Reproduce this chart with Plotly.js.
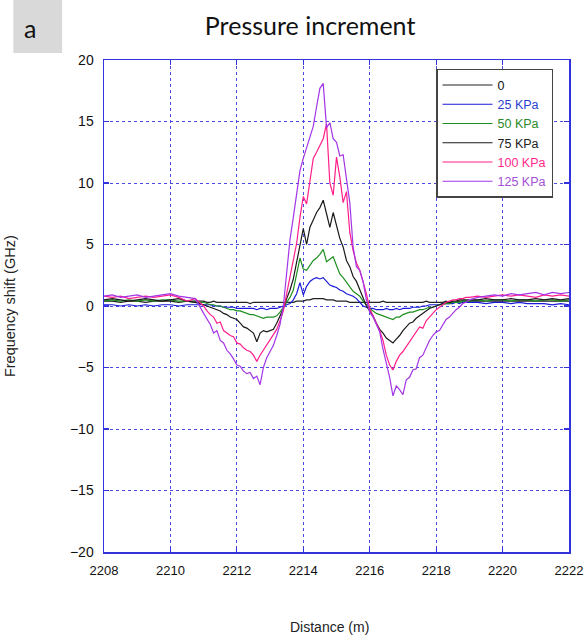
<!DOCTYPE html>
<html>
<head>
<meta charset="utf-8">
<script src="https://cdn.plot.ly/plotly-3.0.1.min.js"></script>
<style>html,body{margin:0;padding:0;background:#fff;}#chart{width:584px;height:636px;}</style>
</head>
<body>
<div id="chart"></div>
<script>
// Distance (m)
const distance = [
  2208, 2208.25, 2208.5, 2208.75, 2209, 2209.25, 2209.5, 2209.75, 2210, 2210.25, 2210.5, 2210.75,
  2211.0, 2211.1, 2211.2, 2211.3, 2211.4, 2211.5, 2211.6, 2211.7, 2211.8, 2211.9,
  2212.0, 2212.1, 2212.2, 2212.3, 2212.4, 2212.5, 2212.6, 2212.7, 2212.8, 2212.9,
  2213.0, 2213.1, 2213.2, 2213.3, 2213.4, 2213.5, 2213.6, 2213.7, 2213.8, 2213.9,
  2214.0, 2214.1, 2214.2, 2214.3, 2214.4, 2214.5, 2214.6, 2214.7, 2214.8, 2214.9,
  2215.0, 2215.1, 2215.2, 2215.3, 2215.4, 2215.5, 2215.6, 2215.7, 2215.8, 2215.9,
  2216.0, 2216.1, 2216.2, 2216.3, 2216.4, 2216.5, 2216.6, 2216.7, 2216.8, 2216.9,
  2217.0, 2217.1, 2217.2, 2217.3, 2217.4, 2217.5, 2217.6, 2217.7, 2217.8, 2217.9,
  2218.0, 2218.1, 2218.2, 2218.3, 2218.4, 2218.5, 2218.6, 2218.7, 2218.8, 2218.9,
  2219.0, 2219.25, 2219.5, 2219.75, 2220, 2220.25, 2220.5, 2220.75, 2221, 2221.25, 2221.5, 2221.75, 2222
];

// Frequency shift (GHz) per pressure
const shift0 = [
  0.4,0.4,0.3,0.4,0.4,0.3,0.4,0.4,0.4,0.3,0.4,0.4,
  0.4,0.3,0.3,0.4,0.3,0.3,0.3,0.3,0.3,0.3,
  0.3,0.3,0.3,0.3,0.2,0.3,0.3,0.3,0.3,0.3,
  0.3,0.3,0.3,0.3,0.3,0.3,0.3,0.3,0.4,0.4,
  0.4,0.5,0.5,0.6,0.6,0.6,0.6,0.5,0.5,0.5,
  0.4,0.4,0.4,0.4,0.3,0.3,0.3,0.3,0.3,0.3,
  0.3,0.3,0.3,0.3,0.4,0.3,0.3,0.3,0.3,0.3,
  0.3,0.3,0.3,0.3,0.3,0.3,0.3,0.4,0.3,0.3,
  0.3,0.3,0.3,0.4,0.3,0.3,0.3,0.4,0.4,0.4,
  0.4,0.4,0.4,0.4,0.4,0.4,0.4,0.4,0.4,0.4,0.4,0.4,0.4
];
const shift25 = [
  0.1,0.1,0.0,0.1,0.0,0.1,0.0,0.1,0.1,0.0,0.1,0.1,
  0.1,0.1,0.1,0.0,0.0,0.0,-0.1,-0.1,-0.1,-0.1,
  -0.2,-0.2,-0.2,-0.2,-0.2,-0.2,-0.3,-0.2,-0.2,-0.3,
  -0.2,-0.2,-0.2,-0.1,0.0,0.1,0.2,0.5,1.0,1.9,
  0.9,1.6,2.0,2.2,2.3,2.2,2.3,2.0,1.7,1.6,
  1.5,1.3,1.2,1.0,0.9,0.8,0.6,0.3,0.0,-0.1,
  -0.2,-0.2,-0.3,-0.3,-0.3,-0.2,-0.3,-0.3,-0.2,-0.3,
  -0.2,-0.2,-0.2,-0.1,-0.1,-0.1,0.0,0.0,0.1,0.1,
  0.1,0.1,0.2,0.2,0.2,0.2,0.3,0.2,0.3,0.3,
  0.3,0.3,0.2,0.3,0.3,0.2,0.3,0.2,0.2,0.2,0.1,0.2,0.1
];
const shift50 = [
  0.4,0.5,0.4,0.5,0.4,0.5,0.4,0.5,0.5,0.4,0.4,0.3,
  0.3,0.2,0.1,0.1,0.0,0.0,-0.1,-0.2,-0.3,-0.3,
  -0.4,-0.4,-0.5,-0.6,-0.7,-0.7,-0.8,-0.9,-1.0,-0.9,
  -0.9,-0.9,-0.8,-0.5,-0.1,0.3,0.7,1.3,2.5,3.9,
  3.0,2.9,3.3,3.7,3.9,4.2,4.6,3.6,3.8,4.0,
  3.3,2.6,2.3,1.9,1.5,1.2,1.0,0.8,0.4,0.1,
  -0.2,-0.4,-0.6,-0.7,-0.8,-0.9,-1.0,-1.1,-0.9,-0.9,
  -0.7,-0.6,-0.5,-0.5,-0.4,-0.3,-0.3,-0.2,-0.1,-0.1,
  0.0,0.1,0.1,0.2,0.2,0.3,0.3,0.3,0.4,0.4,
  0.4,0.5,0.4,0.5,0.5,0.4,0.5,0.5,0.4,0.5,0.5,0.4,0.5
];
const shift75 = [
  0.5,0.6,0.5,0.4,0.5,0.6,0.5,0.4,0.5,0.6,0.4,0.3,
  0.1,0.0,-0.1,-0.2,-0.3,-0.4,-0.6,-0.7,-0.9,-1.0,
  -1.1,-1.4,-1.7,-1.8,-2.0,-2.2,-2.9,-2.2,-2.0,-2.1,
  -2.0,-1.9,-1.4,-0.8,-0.2,0.6,1.3,2.2,3.6,5.0,
  6.3,5.0,6.4,7.0,7.6,8.0,8.6,7.5,6.4,7.6,
  6.6,5.5,4.8,3.7,3.2,2.4,2.0,1.3,0.6,0.0,
  -0.4,-0.8,-1.4,-1.9,-2.2,-2.6,-2.8,-3.0,-2.7,-2.4,
  -2.0,-1.7,-1.4,-1.3,-1.0,-0.8,-0.6,-0.4,-0.2,-0.1,
  0.0,0.1,0.2,0.3,0.3,0.4,0.4,0.5,0.5,0.5,
  0.5,0.5,0.6,0.5,0.5,0.6,0.5,0.5,0.6,0.5,0.6,0.5,0.6
];
const shift100 = [
  0.8,0.7,0.8,0.6,0.7,0.8,0.7,0.8,0.9,0.7,0.4,0.6,
  0.0,-0.4,-0.7,-0.9,-1.4,-1.3,-2.0,-2.2,-2.4,-2.5,
  -3.0,-3.1,-3.4,-3.6,-3.7,-4.0,-4.5,-4.0,-3.6,-3.2,
  -2.8,-2.4,-1.9,-1.2,-0.4,1.0,2.4,4.0,5.1,7.2,
  8.9,8.3,10.2,12.0,12.5,13.0,13.6,14.8,10.0,9.0,
  12.1,10.5,8.4,9.3,6.0,4.5,3.5,2.9,2.0,1.0,
  -0.2,-0.8,-1.3,-2.0,-2.8,-4.0,-4.8,-5.2,-4.5,-4.0,
  -3.7,-3.3,-3.0,-2.5,-2.2,-1.7,-1.8,-1.2,-0.9,-0.6,
  -0.3,-0.1,0.1,0.3,0.4,0.5,0.5,0.6,0.6,0.7,
  0.7,0.8,0.7,0.8,0.9,0.8,0.9,0.8,0.7,0.9,0.8,0.9,0.8
];
const shift125 = [
  0.8,0.9,0.7,0.8,0.9,0.7,0.8,0.9,1.0,0.8,0.7,0.6,
  -0.6,-1.0,-1.5,-2.2,-2.0,-2.8,-3.0,-3.6,-3.9,-4.3,
  -4.8,-4.9,-5.3,-5.5,-5.4,-5.9,-5.7,-6.4,-5.0,-4.2,
  -3.7,-3.2,-2.4,-1.5,0.0,2.7,5.4,7.2,9.2,11.0,
  12.0,12.9,13.8,14.6,16.2,17.7,18.1,14.5,14.9,13.6,
  13.3,12.2,12.3,10.2,8.4,4.8,3.2,2.9,2.0,0.5,
  -0.5,-0.9,-1.5,-2.1,-3.5,-4.6,-5.8,-7.3,-6.5,-6.8,
  -7.2,-6.0,-5.8,-5.2,-5.1,-4.2,-4.0,-3.4,-2.8,-2.4,
  -2.1,-2.0,-1.5,-1.1,-0.9,-0.6,-0.3,-0.1,0.2,0.3,
  0.5,0.7,0.8,0.9,0.8,1.0,0.9,1.0,1.1,0.9,1.1,1.0,1.1
];

const seriesNames = ['0', '25 KPa', '50 KPa', '75 KPa', '100 KPa', '125 KPa'];
const xTickVals = [2208, 2210, 2212, 2214, 2216, 2218, 2220, 2222];
const yTickVals = [-20, -15, -10, -5, 0, 5, 10, 15, 20];

const seriesValues = [shift0, shift25, shift50, shift75, shift100, shift125];
const seriesColors = ['#222222', '#1a1ad8', '#1f8f1f', '#1a1a1a', '#ff1f8a', '#a335e6'];
const legendTextColors = ['#111111', '#2a3fd0', '#2a8a2a', '#222222', '#ff2a8a', '#a34fd6'];

const traces = seriesValues.map((vals, i) => ({
  type: 'scatter',
  mode: 'lines',
  x: distance,
  y: vals,
  name: '<span style="color:' + legendTextColors[i] + '">' + seriesNames[i] + '</span>',
  line: {color: seriesColors[i], width: 1.2}
}));

const axisBlue = '#3333dd';
const gridBlue = '#4a4ae0';
const layout = {
  width: 584,
  height: 636,
  paper_bgcolor: '#ffffff',
  plot_bgcolor: '#ffffff',
  margin: {l: 104, r: 15, t: 60, b: 84},
  showlegend: true,
  title: {
    text: 'Pressure increment',
    font: {family: 'Lato, Noto Sans, sans-serif', size: 25, color: '#111'},
    x: 0.531, xanchor: 'center', xref: 'container',
    y: 0.959, yanchor: 'middle', yref: 'container'
  },
  legend: {
    x: 0.714, y: 0.982, xanchor: 'left', yanchor: 'top',
    bgcolor: '#ffffff', bordercolor: '#444444', borderwidth: 1.5,
    font: {family: 'Liberation Sans, Arial, sans-serif', size: 12.5, color: '#111'},
    itemwidth: 50,
    tracegroupgap: 0
  },
  xaxis: {
    range: [2208, 2222],
    tickmode: 'array', tickvals: xTickVals, ticktext: xTickVals.map(String),
    ticklabeloverflow: 'allow',
    showgrid: true, gridcolor: gridBlue, griddash: 'dot', gridwidth: 1,
    zeroline: false,
    showline: true, linecolor: axisBlue, linewidth: 1.5, mirror: 'allticks',
    ticks: 'inside', ticklen: 5, tickcolor: axisBlue, tickwidth: 1.2,
    ticklabelstandoff: 6,
    tickfont: {family: 'Liberation Sans, Arial, sans-serif', size: 13, color: '#111'},
    title: {text: ''}
  },
  yaxis: {
    range: [-20, 20],
    tickmode: 'array', tickvals: yTickVals, ticktext: yTickVals.map(v => v < 0 ? '\u2212' + Math.abs(v) : String(v)),
    showgrid: true, gridcolor: gridBlue, griddash: 'dot', gridwidth: 1,
    zeroline: false,
    showline: true, linecolor: axisBlue, linewidth: 1.5, mirror: 'allticks',
    ticks: 'inside', ticklen: 5, tickcolor: axisBlue, tickwidth: 1.2,
    ticklabelstandoff: 6,
    tickfont: {family: 'Liberation Sans, Arial, sans-serif', size: 14, color: '#111'},
    title: {text: ''}
  },
  shapes: [
    {type: 'rect', xref: 'paper', yref: 'paper',
     x0: -0.195, x1: -0.090, y0: 1.0142, y1: 1.122,
     fillcolor: '#d9d9d9', line: {width: 0}, layer: 'below'}
  ],
  annotations: [
    {text: 'a', xref: 'paper', yref: 'paper', x: -0.159, y: 1.065,
     xanchor: 'center', yanchor: 'middle', showarrow: false,
     font: {family: 'Lato, Noto Sans, sans-serif', size: 25, color: '#111'}},
    {text: 'Distance (m)', xref: 'paper', yref: 'paper', x: 0.485, y: -0.153,
     xanchor: 'center', yanchor: 'middle', showarrow: false,
     font: {family: 'Liberation Sans, Arial, sans-serif', size: 14, color: '#222'}},
    {text: 'Frequency shift (GHz)', xref: 'paper', yref: 'paper', x: -0.202, y: 0.5,
     xanchor: 'center', yanchor: 'middle', showarrow: false, textangle: -90,
     font: {family: 'Liberation Sans, Arial, sans-serif', size: 14.5, color: '#222'}}
  ]
};

Plotly.newPlot('chart', traces, layout, {displayModeBar: false, staticPlot: true});
</script>
</body>
</html>
